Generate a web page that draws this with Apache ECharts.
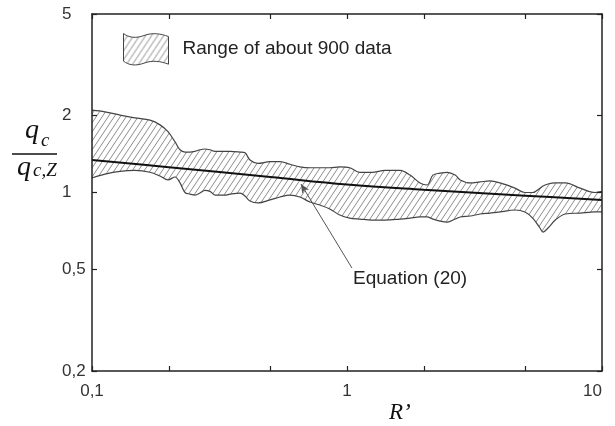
<!DOCTYPE html>
<html>
<head>
<meta charset="utf-8">
<script src="https://cdn.jsdelivr.net/npm/echarts@6/dist/echarts.min.js"></script>
<style>
  html, body { margin: 0; padding: 0; background: #fff; }
  #chart { width: 615px; height: 426px; }
</style>
</head>
<body>
<div id="chart"></div>
<script>
// R' sample positions shared by both band edges
const rValues = [0.100, 0.1124, 0.1288, 0.1474, 0.1688, 0.1848, 0.1986, 0.2116, 0.2214, 0.2316,
  0.2423, 0.2535, 0.2652, 0.2773, 0.2902, 0.3037, 0.3323, 0.3477, 0.3806, 0.3981,
  0.4165, 0.4478, 0.4988, 0.5458, 0.5972, 0.6535, 0.7151, 0.7825, 0.8562, 0.9369,
  1.025, 1.122, 1.252, 1.411, 1.615, 1.767, 1.933, 2.060, 2.172, 2.317,
  2.472, 2.656, 2.778, 3.040, 3.326, 3.640, 3.983, 4.557, 4.986, 5.348,
  5.712, 5.871, 6.142, 6.562, 7.180, 8.215, 9.399, 10.0];

// upper edge of the scatter band (q_c / q_c,Z)
const bandUpper = [2.10, 2.07, 2.01, 1.96, 1.92, 1.84, 1.73, 1.58, 1.47, 1.44,
  1.44, 1.45, 1.47, 1.48, 1.47, 1.45, 1.45, 1.45, 1.44, 1.43,
  1.34, 1.30, 1.32, 1.32, 1.29, 1.26, 1.25, 1.25, 1.25, 1.26,
  1.25, 1.20, 1.20, 1.22, 1.22, 1.17, 1.09, 1.07, 1.17, 1.19,
  1.20, 1.17, 1.12, 1.09, 1.10, 1.11, 1.09, 1.04, 1.00, 1.00,
  1.04, 1.06, 1.08, 1.09, 1.09, 1.04, 1.00, 1.01];

// lower edge of the scatter band
const bandLower = [1.14, 1.18, 1.21, 1.22, 1.20, 1.16, 1.12, 1.15, 1.09, 1.00,
  0.986, 0.977, 0.995, 1.02, 1.01, 0.977, 0.977, 0.986, 0.995, 0.969,
  0.926, 0.910, 0.935, 0.960, 0.977, 0.960, 0.918, 0.893, 0.862, 0.816,
  0.794, 0.787, 0.780, 0.780, 0.787, 0.794, 0.802, 0.802, 0.787, 0.773,
  0.766, 0.787, 0.802, 0.809, 0.824, 0.831, 0.839, 0.854, 0.839, 0.794,
  0.726, 0.700, 0.726, 0.780, 0.824, 0.831, 0.839, 0.839];

// Equation (20)
const eqR = [0.1, 0.2, 0.5, 1, 2, 5, 10];
const eqQ = [1.34, 1.256, 1.150, 1.075, 1.026, 0.972, 0.935];

// leader from the "Equation (20)" note to the curve
const noteFrom = [1.046, 0.506];
const noteTo = [0.66, 1.079];

const xTicks = [0.1, 0.2, 0.5, 1, 2, 5, 10];
const xLabels = [0.1, 1, 10];
const yTicks = [0.2, 0.5, 1, 2, 5];

const bandName = 'Range of about 900 data';

function hatchPattern() {
  const c = document.createElement('canvas');
  c.width = 6; c.height = 9;
  const g = c.getContext('2d');
  g.strokeStyle = '#8c8c8c';
  g.lineWidth = 1;
  g.beginPath();
  [0, 9, 18].forEach(function (k) {
    g.moveTo(-1, k + 1.5);
    g.lineTo(7, k - 10.5);
  });
  g.stroke();
  return { image: c, repeat: 'repeat' };
}
const hatch = hatchPattern();

const comma = function (v) { return String(v).replace('.', ','); };
const labelFont = { fontFamily: 'Liberation Sans', fontSize: 17, color: '#333' };
const frameLine = { show: true, lineStyle: { color: '#222', width: 1.5 } };

function xAxisDef(pos, labels) {
  return {
    type: 'log', logBase: 10, min: 0.1, max: 10, position: pos, z: 10,
    axisLine: frameLine,
    splitLine: { show: false },
    axisTick: { show: true, inside: true, length: 5, customValues: xTicks,
      lineStyle: { color: '#222', width: 1.2 } },
    axisLabel: labels ? Object.assign({ show: true, customValues: xLabels, margin: 12,
      formatter: comma, alignMaxLabel: 'right' }, labelFont) : { show: false }
  };
}
function yAxisDef(pos, labels) {
  return {
    type: 'log', logBase: 10, min: 0.2, max: 5, position: pos, z: 10,
    axisLine: frameLine,
    splitLine: { show: false },
    axisTick: { show: true, inside: true, length: 5, customValues: yTicks,
      lineStyle: { color: '#222', width: 1.2 } },
    axisLabel: labels ? Object.assign({ show: true, customValues: yTicks, margin: 30,
      align: 'left', formatter: comma }, labelFont) : { show: false }
  };
}

const upperData = rValues.map(function (r, i) { return [r, bandUpper[i]]; });
const lowerData = rValues.map(function (r, i) { return [r, bandLower[i]]; });
const eqData = eqR.map(function (r, i) { return [r, eqQ[i]]; });

const chart = echarts.init(document.getElementById('chart'), null, { renderer: 'canvas' });
chart.setOption({
  animation: false,
  backgroundColor: '#fff',
  grid: { left: 92, top: 14, width: 510, height: 357 },
  xAxis: [xAxisDef('bottom', true), xAxisDef('top', false)],
  yAxis: [yAxisDef('left', true), yAxisDef('right', false)],
  legend: {
    left: 118, top: 28, orient: 'vertical',
    itemWidth: 45, itemHeight: 33, selectedMode: false,
    textStyle: { fontFamily: 'Liberation Sans', fontSize: 19, color: '#222', padding: [0, 0, 0, 9] },
    data: [{
      name: bandName,
      icon: 'path://M0,1 C5,5 12,6 20,3 C28,0 36,1 44,4 L44,31 C36,28 28,27 20,30 C12,33 5,32 0,28 Z',
      itemStyle: { color: hatch, borderColor: '#444', borderWidth: 1 }
    }]
  },
  series: [
    {
      // hatched band: filled from the upper edge down, then masked below the lower edge
      name: bandName, type: 'line', data: upperData,
      xAxisIndex: 0, yAxisIndex: 0,
      symbol: 'none', smooth: 0.35, color: '#444',
      lineStyle: { color: '#444', width: 1.2 },
      areaStyle: { color: hatch, opacity: 1, origin: 'start' }, z: 2
    },
    {
      name: 'lower', type: 'line', data: lowerData,
      xAxisIndex: 0, yAxisIndex: 0,
      symbol: 'none', smooth: 0.35, color: '#444',
      lineStyle: { color: '#444', width: 1.2 },
      areaStyle: { color: '#fff', opacity: 1, origin: 'start' }, z: 2
    },
    {
      name: 'Equation (20)', type: 'line', data: eqData,
      xAxisIndex: 0, yAxisIndex: 0,
      symbol: 'none', smooth: 0.4, color: '#111',
      lineStyle: { color: '#111', width: 2 }, z: 3,
      markLine: {
        silent: true, animation: false,
        symbol: ['none', 'arrow'], symbolSize: [6, 9],
        lineStyle: { color: '#555', width: 1, type: 'solid' },
        label: {
          show: true, position: 'start', distance: 2,
          formatter: 'Equation (20)', align: 'left', verticalAlign: 'top',
          fontFamily: 'Liberation Sans', fontSize: 19, color: '#222'
        },
        data: [[{ coord: noteFrom }, { coord: noteTo }]]
      }
    }
  ],
  graphic: [
    { type: 'text', left: 25, top: 117, style: { text: 'q', font: 'italic 28px "Liberation Serif"', fill: '#111' } },
    { type: 'text', left: 41, top: 131, style: { text: 'c', font: 'italic 19px "Liberation Serif"', fill: '#111' } },
    { type: 'line', shape: { x1: 12, y1: 154, x2: 57, y2: 154 }, style: { stroke: '#111', lineWidth: 1.3 } },
    { type: 'text', left: 17, top: 154, style: { text: 'q', font: 'italic 28px "Liberation Serif"', fill: '#111' } },
    { type: 'text', left: 33, top: 161, style: { text: 'c,Z', font: 'italic 19px "Liberation Serif"', fill: '#111' } },
    { type: 'text', left: 389, top: 401, style: { text: 'R\u2019', font: 'italic 23px "Liberation Serif"', fill: '#111' } }
  ]
});
</script>
</body>
</html>
